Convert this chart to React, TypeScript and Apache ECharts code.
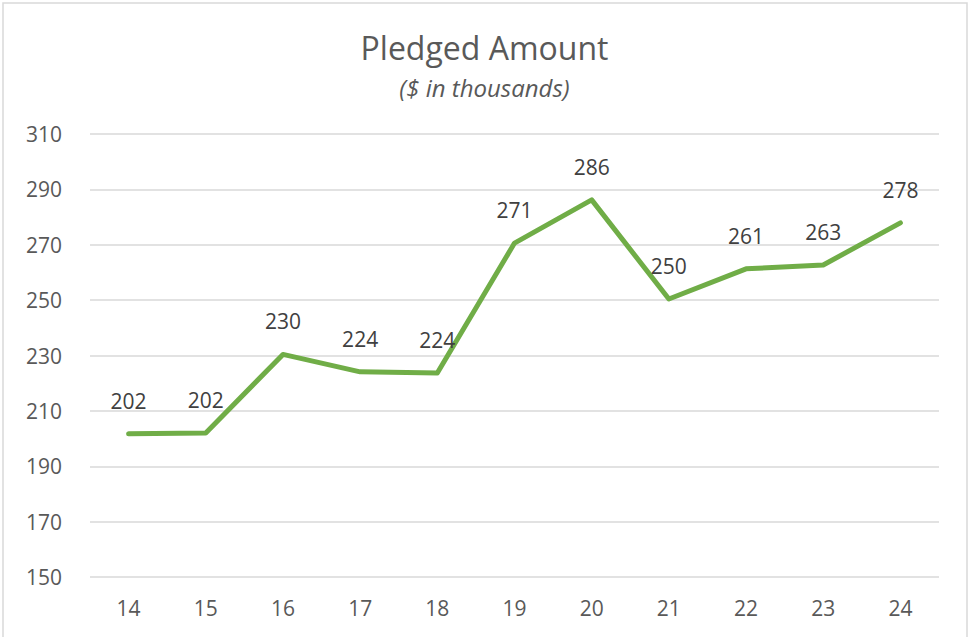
import React, { useEffect, useRef } from "react";
import * as echarts from "echarts";

const categories = ["14", "15", "16", "17", "18", "19", "20", "21", "22", "23", "24"];
const pledged = [201.7, 202.0, 230.4, 224.1, 223.7, 270.6, 286.2, 250.4, 261.3, 262.7, 277.9];
const titleText = "Pledged Amount";
const subtitleText = "($ in thousands)";
const yMin = 150;
const yMax = 310;
const yStep = 20;

const FONT = "'Open Sans', 'Noto Sans', sans-serif";

export default function App() {
  const ref = useRef<HTMLDivElement>(null);
  useEffect(() => {
    if (!ref.current) return;
    const chart = echarts.init(ref.current, undefined, { renderer: "svg" });
    chart.setOption({
      animation: false,
      backgroundColor: "#ffffff",
      textStyle: { fontFamily: FONT },
      title: [
        {
          text: titleText,
          left: "center",
          top: 26,
          textStyle: { fontSize: 32, fontWeight: "normal", color: "#595959", fontFamily: FONT },
        },
        {
          text: subtitleText,
          left: "center",
          top: 70,
          textStyle: { fontSize: 24, fontWeight: "normal", fontStyle: "italic", color: "#595959", fontFamily: FONT },
        },
      ],
      graphic: [
        {
          type: "rect",
          shape: { x: 3, y: 3, width: 964, height: 650 },
          style: { fill: "none", stroke: "#d9d9d9", lineWidth: 1.5 },
          silent: true,
          z: -1,
        },
      ],
      grid: { left: 90, right: 30, top: 134, bottom: 60, containLabel: false },
      xAxis: {
        type: "category",
        data: categories,
        boundaryGap: true,
        axisLine: { show: false },
        axisTick: { show: false },
        axisLabel: { fontSize: 21, color: "#595959", margin: 20, fontFamily: FONT },
      },
      yAxis: {
        type: "value",
        min: yMin,
        max: yMax,
        interval: yStep,
        axisLine: { show: false },
        axisTick: { show: false },
        axisLabel: { fontSize: 21, color: "#595959", margin: 28, fontFamily: FONT },
        splitLine: { lineStyle: { color: "#d9d9d9", width: 1.5 } },
      },
      series: [
        {
          type: "line",
          data: pledged,
          symbol: "circle",
          symbolSize: 1,
          showSymbol: true,
          smooth: false,
          lineStyle: { color: "#70AD47", width: 5, cap: "round", join: "round" },
          itemStyle: { color: "rgba(112,173,71,0)" },
          label: {
            show: true,
            position: "top",
            distance: 22,
            fontSize: 21,
            color: "#404040",
            fontFamily: FONT,
            formatter: (p: any) => String(Math.round(p.value)),
          },
        },
      ],
    });
    return () => chart.dispose();
  }, []);
  return (
    <div
      ref={ref}
      style={{ position: "fixed", left: 0, top: 0, width: 969, height: 637 }}
    />
  );
}
